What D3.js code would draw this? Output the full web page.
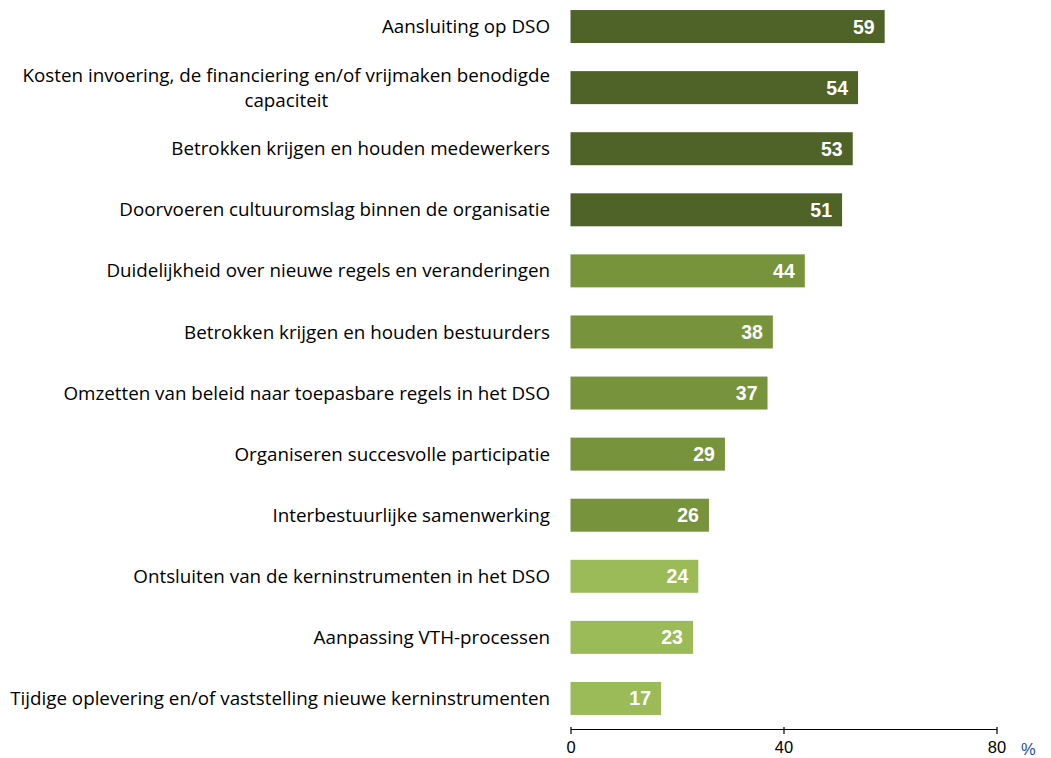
<!DOCTYPE html>
<html>
<head>
<meta charset="utf-8">
<script src="https://cdn.jsdelivr.net/npm/d3@7"></script>
<style>
  body { margin: 0; background: #fff; }
</style>
</head>
<body>
<div id="chart"></div>
<script>
// data
const categories = [
  'Aansluiting op DSO',
  'Kosten invoering, de financiering en/of vrijmaken benodigde|capaciteit',
  'Betrokken krijgen en houden medewerkers',
  'Doorvoeren cultuuromslag binnen de organisatie',
  'Duidelijkheid over nieuwe regels en veranderingen',
  'Betrokken krijgen en houden bestuurders',
  'Omzetten van beleid naar toepasbare regels in het DSO',
  'Organiseren succesvolle participatie',
  'Interbestuurlijke samenwerking',
  'Ontsluiten van de kerninstrumenten in het DSO',
  'Aanpassing VTH-processen',
  'Tijdige oplevering en/of vaststelling nieuwe kerninstrumenten'
];
const values = [59, 54, 53, 51, 44, 38, 37, 29, 26, 24, 23, 17];
const tiers = [0, 0, 0, 0, 1, 1, 1, 1, 1, 2, 2, 2];
const xTicks = [0, 40, 80];

const width = 1051, height = 758;
const tierColor = ['#4f6228', '#77933c', '#9bbb59'];

const svg = d3.select('#chart').append('svg')
  .attr('width', width)
  .attr('height', height);

const x = d3.scaleLinear().domain([0, 80]).range([570.5, 996.5]);

const y = d3.scaleBand()
  .domain(d3.range(categories.length))
  .range([-4, 729])
  .paddingInner(0.46)
  .paddingOuter(0.23);

// bars
svg.append('g').selectAll('rect')
  .data(values)
  .enter()
  .append('rect')
  .attr('x', x(0))
  .attr('y', (d, i) => y(i))
  .attr('width', d => x(d) - x(0))
  .attr('height', y.bandwidth())
  .attr('fill', (d, i) => tierColor[tiers[i]]);

// value labels inside bar end
svg.append('g').selectAll('text')
  .data(values)
  .enter()
  .append('text')
  .attr('x', d => x(d) - 10)
  .attr('y', (d, i) => y(i) + y.bandwidth() / 2)
  .attr('dy', '0.36em')
  .attr('text-anchor', 'end')
  .attr('fill', '#fff')
  .attr('font-family', 'Liberation Sans, Arial, sans-serif')
  .attr('font-weight', 'bold')
  .attr('font-size', '19.5px')
  .text(d => d);

// category labels, right aligned, wrapped lines centred under each other
const labelX = 550;
const lineH = 25;
const labels = svg.append('g')
  .attr('font-family', 'Open Sans, sans-serif')
  .attr('font-size', '18.8px')
  .attr('fill', '#000');

categories.forEach((c, i) => {
  const lines = c.split('|');
  const cy = y(i) + y.bandwidth() / 2;
  const t = labels.append('text');
  lines.forEach((ln, j) => {
    t.append('tspan')
      .attr('x', 0)
      .attr('y', cy + (j - (lines.length - 1) / 2) * lineH)
      .attr('dy', '0.35em')
      .text(ln);
  });
  // measure widest line, then place block right-aligned with lines centred
  const spans = t.selectAll('tspan').nodes();
  const w = d3.max(spans, s => s.getComputedTextLength());
  spans.forEach(s => {
    const sw = s.getComputedTextLength();
    d3.select(s).attr('x', labelX - w + (w - sw) / 2);
  });
});

// x axis
const axis = svg.append('g')
  .attr('transform', 'translate(0,729)')
  .call(d3.axisBottom(x).tickValues(xTicks).tickSize(5).tickSizeOuter(0).tickPadding(7));

axis.select('.domain').attr('stroke', '#000').attr('stroke-width', 1.2);
axis.selectAll('.tick line').attr('stroke', '#000').attr('stroke-width', 1.2).attr('y1', -2);
axis.selectAll('.tick text')
  .attr('font-family', 'Liberation Sans, Arial, sans-serif')
  .attr('font-size', '16.5px')
  .attr('fill', '#000');

svg.append('text')
  .attr('x', 1021)
  .attr('y', 755)
  .attr('font-family', 'Liberation Sans, Arial, sans-serif')
  .attr('font-size', '16.5px')
  .attr('fill', '#1f4e9c')
  .text('%');
</script>
</body>
</html>
